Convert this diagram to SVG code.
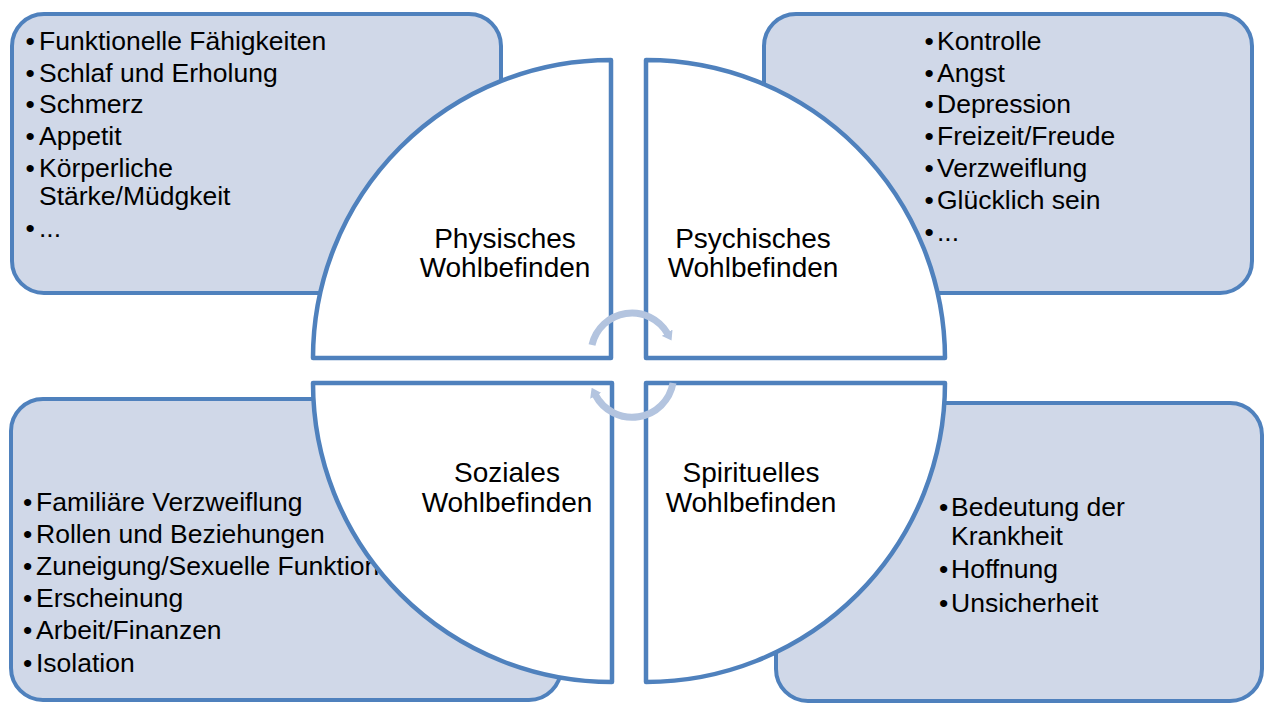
<svg xmlns="http://www.w3.org/2000/svg" width="1266" height="704" viewBox="0 0 1266 704">
<defs>
<style>
.box{fill:#D0D8E8;stroke:#4F81BD;stroke-width:4}
.quad{fill:#FFFFFF;stroke:#4F81BD;stroke-width:4.5;stroke-linejoin:round}
.item{font-family:"Liberation Sans",Arial,sans-serif;font-size:26.5px;fill:#000000}
.label{font-family:"Liberation Sans",Arial,sans-serif;font-size:28px;fill:#000000;text-anchor:middle}
.cyc{fill:none;stroke:#B3C4DF;stroke-width:7}
</style>
<marker id="ah" markerUnits="userSpaceOnUse" viewBox="0 0 10 14" refX="1" refY="7" markerWidth="9" markerHeight="13" orient="auto">
<path d="M0,0 L10,7 L0,14 Z" fill="#B3C4DF"/>
</marker>
</defs>
<rect width="1266" height="704" fill="#FFFFFF"/>

<g id="box-physisch">
<rect class="box" x="12" y="14" width="489" height="279" rx="32"/>
<text class="item" y="50"><tspan x="25.5">•</tspan><tspan x="39">Funktionelle Fähigkeiten</tspan></text>
<text class="item" y="82"><tspan x="25.5">•</tspan><tspan x="39">Schlaf und Erholung</tspan></text>
<text class="item" y="113"><tspan x="25.5">•</tspan><tspan x="39">Schmerz</tspan></text>
<text class="item" y="145"><tspan x="25.5">•</tspan><tspan x="39">Appetit</tspan></text>
<text class="item" y="177"><tspan x="25.5">•</tspan><tspan x="39">Körperliche</tspan></text>
<text class="item" x="39" y="205">Stärke/Müdgkeit</text>
<text class="item" y="237"><tspan x="25.5">•</tspan><tspan x="39">...</tspan></text>
</g>

<g id="box-psychisch">
<rect class="box" x="764" y="14" width="488" height="279" rx="32"/>
<text class="item" y="50"><tspan x="924.5">•</tspan><tspan x="937">Kontrolle</tspan></text>
<text class="item" y="82"><tspan x="924.5">•</tspan><tspan x="937">Angst</tspan></text>
<text class="item" y="113"><tspan x="924.5">•</tspan><tspan x="937">Depression</tspan></text>
<text class="item" y="145"><tspan x="924.5">•</tspan><tspan x="937">Freizeit/Freude</tspan></text>
<text class="item" y="177"><tspan x="924.5">•</tspan><tspan x="937">Verzweiflung</tspan></text>
<text class="item" y="209"><tspan x="924.5">•</tspan><tspan x="937">Glücklich sein</tspan></text>
<text class="item" y="241"><tspan x="924.5">•</tspan><tspan x="937">...</tspan></text>
</g>

<g id="box-sozial">
<rect class="box" x="11" y="399" width="550" height="301" rx="32"/>
<text class="item" y="510.5"><tspan x="23">•</tspan><tspan x="36">Familiäre Verzweiflung</tspan></text>
<text class="item" y="542.5"><tspan x="23">•</tspan><tspan x="36">Rollen und Beziehungen</tspan></text>
<text class="item" y="574.5"><tspan x="23">•</tspan><tspan x="36">Zuneigung/Sexuelle Funktion</tspan></text>
<text class="item" y="606.5"><tspan x="23">•</tspan><tspan x="36">Erscheinung</tspan></text>
<text class="item" y="639"><tspan x="23">•</tspan><tspan x="36">Arbeit/Finanzen</tspan></text>
<text class="item" y="671.5"><tspan x="23">•</tspan><tspan x="36">Isolation</tspan></text>
</g>

<g id="box-spirituell">
<rect class="box" x="776" y="403" width="486" height="298" rx="32"/>
<text class="item" y="516"><tspan x="939">•</tspan><tspan x="951">Bedeutung der</tspan></text>
<text class="item" x="951" y="545">Krankheit</text>
<text class="item" y="578"><tspan x="939">•</tspan><tspan x="951">Hoffnung</tspan></text>
<text class="item" y="611.5"><tspan x="939">•</tspan><tspan x="951">Unsicherheit</tspan></text>
</g>

<g id="quad-physisch">
<path class="quad" d="M611,358 L313,358 A298,298 0 0 1 611,60 Z"/>
<text class="label" x="505" y="248">Physisches</text>
<text class="label" x="505" y="277">Wohlbefinden</text>
</g>

<g id="quad-psychisch">
<path class="quad" d="M646,358 L646,60 A299,299 0 0 1 945,358 Z"/>
<text class="label" x="753" y="248">Psychisches</text>
<text class="label" x="753" y="277">Wohlbefinden</text>
</g>

<g id="quad-sozial">
<path class="quad" d="M612,383 L612,682 A299,299 0 0 1 313,383 Z"/>
<text class="label" x="507" y="482">Soziales</text>
<text class="label" x="507" y="511.5">Wohlbefinden</text>
</g>

<g id="quad-spirituell">
<path class="quad" d="M646,383 L945,383 A299,299 0 0 1 646,682 Z"/>
<text class="label" x="751" y="482">Spirituelles</text>
<text class="label" x="751" y="511.5">Wohlbefinden</text>
</g>

<g id="connectors">
<path class="cyc" d="M592,345 A41,41 0 0 1 667.5,333.5" marker-end="url(#ah)"/>
<path class="cyc" d="M673,383 A41.5,41.5 0 0 1 595.4,395" marker-end="url(#ah)"/>
</g>
</svg>
